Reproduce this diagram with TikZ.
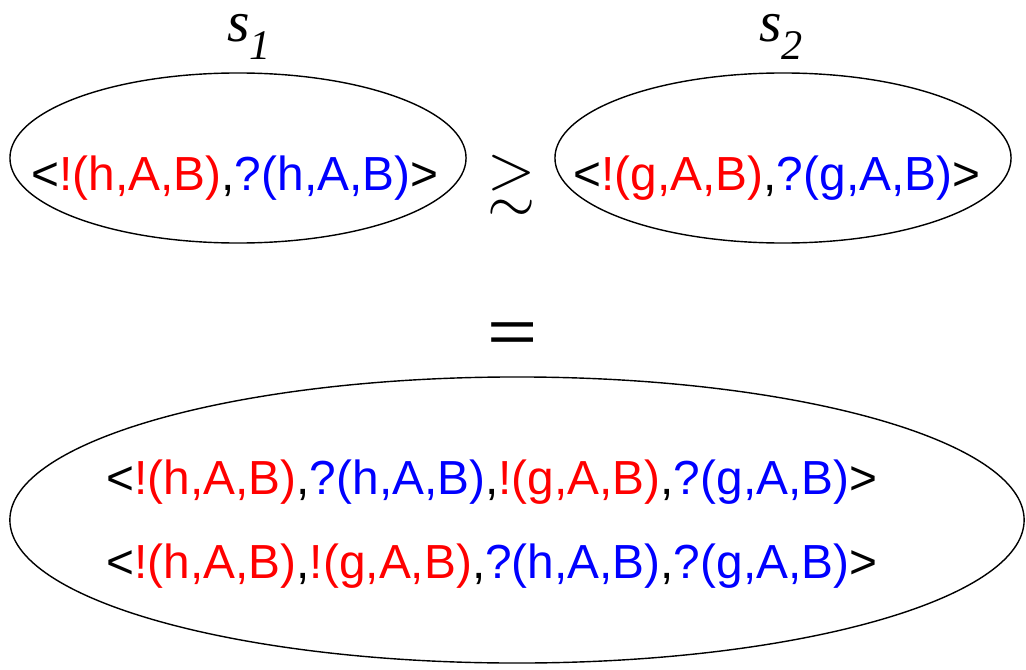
\documentclass[tikz,border=0pt]{standalone}
\usepackage{fontspec}
\usepackage{amssymb}
\setmainfont{Liberation Sans}
\newfontfamily\labelfont{Liberation Serif}
\usetikzlibrary{shapes.geometric}

\newcommand{\snd}[1]{\textcolor{red}{!(#1,A,B)}}
\newcommand{\rcv}[1]{\textcolor{blue}{?(#1,A,B)}}

\begin{document}
\begin{tikzpicture}[x=0.025cm, y=-0.025cm,
    state/.style={draw, ellipse, line width=1pt, inner sep=0pt},
    seq/.style={anchor=base, inner sep=0pt, font=\fontsize{34}{40}\selectfont},
    sname/.style={anchor=base, inner sep=0pt, font=\labelfont\itshape\fontsize{41}{41}\selectfont},
    rel/.style={inner sep=0pt, font=\fontsize{44}{44}\selectfont}]
  \useasboundingbox (0,0) rectangle (1026,670);

  \node[state, minimum width=11.4cm, minimum height=4.25cm] (left) at (238,158) {};
  \node[state, minimum width=11.4cm, minimum height=4.25cm] (right) at (783,158) {};
  \node[state, minimum width=25.35cm, minimum height=7.15cm] (merge) at (517,520) {};

  \node[seq] (lefttxt) at (235,190) {<\snd{h},\rcv{h}>};
  \node[seq] (righttxt) at (777,190) {<\snd{g},\rcv{g}>};
  \node[seq] (line1) at (492,494) {<\snd{h},\rcv{h},\snd{g},\rcv{g}>};
  \node[seq] (line2) at (492,578) {<\snd{h},\snd{g},\rcv{h},\rcv{g}>};

  \node[sname] (s1) at (249,42) {s\raisebox{-0.3em}{\fontsize{30}{30}\selectfont 1}};
  \node[sname] (s2) at (781,42) {s\raisebox{-0.3em}{\fontsize{30}{30}\selectfont 2}};

  \node[rel] (geq) at (512,185) {$\gtrsim$};
  \node[rel] (eq) at (513,338) {\scalebox{1.7}[1.2]{\fontsize{36}{36}\selectfont =}};
\end{tikzpicture}
\end{document}
